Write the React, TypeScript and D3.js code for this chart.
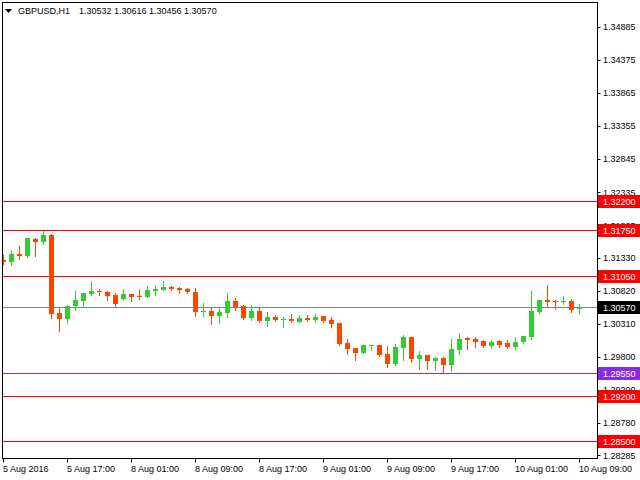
import React from "react";
import * as d3 from "d3";

const symbolTitle = "GBPUSD,H1";
const titleValues = "1.30532 1.30616 1.30456 1.30570";

const openP = [1.31298,1.31263,1.31386,1.31355,1.31622,1.31576,1.31679,1.30478,1.30385,1.30585,
1.30667,1.30770,1.30816,1.30801,1.30755,1.30698,1.30770,1.30744,1.30729,1.30821,
1.30832,1.30878,1.30863,1.30847,1.30801,1.30493,1.30508,1.30431,1.30478,1.30662,
1.30585,1.30401,1.30508,1.30354,1.30416,1.30381,1.30385,1.30339,1.30401,1.30370,
1.30431,1.30370,1.30324,1.30016,1.29939,1.29862,1.29969,1.29985,1.29846,1.29692,
1.29939,1.30108,1.29769,1.29831,1.29738,1.29785,1.29677,1.29908,1.30093,1.30077,
1.30046,1.29969,1.30046,1.30016,1.29954,1.30031,1.30108,1.30493,1.30678,1.30667,
1.30647,1.30662,1.30532];
const highP = [1.31371,1.31452,1.31509,1.31637,1.31633,1.31745,1.31687,1.30565,1.30601,1.30816,
1.30790,1.30975,1.30852,1.30816,1.30786,1.30847,1.30775,1.30847,1.30893,1.30909,
1.30970,1.30893,1.30878,1.30863,1.30863,1.30632,1.30555,1.30555,1.30786,1.30709,
1.30601,1.30601,1.30570,1.30493,1.30447,1.30416,1.30462,1.30447,1.30447,1.30462,
1.30435,1.30416,1.30328,1.30077,1.29943,1.29985,1.29985,1.29990,1.29969,1.30000,
1.30139,1.30112,1.29892,1.29835,1.29800,1.29800,1.30077,1.30170,1.30108,1.30108,
1.30062,1.30062,1.30062,1.30062,1.30108,1.30123,1.30816,1.30678,1.30909,1.30678,
1.30739,1.30693,1.30616];
const lowP = [1.31237,1.31221,1.31314,1.31340,1.31355,1.31540,1.30405,1.30200,1.30328,1.30528,
1.30570,1.30755,1.30759,1.30682,1.30590,1.30682,1.30667,1.30698,1.30725,1.30755,
1.30828,1.30832,1.30786,1.30786,1.30431,1.30431,1.30308,1.30324,1.30416,1.30524,
1.30385,1.30370,1.30339,1.30277,1.30354,1.30262,1.30339,1.30335,1.30354,1.30339,
1.30339,1.30262,1.29985,1.29846,1.29754,1.29858,1.29908,1.29815,1.29646,1.29677,
1.29754,1.29723,1.29615,1.29615,1.29600,1.29554,1.29584,1.29846,1.29923,1.29954,
1.29954,1.29939,1.29954,1.29939,1.29923,1.30016,1.30077,1.30478,1.30585,1.30539,
1.30616,1.30493,1.30456];
const closeP = [1.31268,1.31386,1.31355,1.31633,1.31576,1.31679,1.30462,1.30390,1.30590,1.30678,
1.30786,1.30816,1.30801,1.30744,1.30616,1.30770,1.30729,1.30735,1.30832,1.30847,
1.30878,1.30847,1.30832,1.30801,1.30493,1.30508,1.30431,1.30493,1.30662,1.30570,
1.30401,1.30508,1.30354,1.30416,1.30370,1.30390,1.30354,1.30401,1.30370,1.30416,
1.30354,1.30308,1.30000,1.29923,1.29862,1.29985,1.29980,1.29831,1.29692,1.29954,
1.30108,1.29769,1.29831,1.29738,1.29785,1.29677,1.29923,1.30077,1.30062,1.30031,
1.29969,1.30031,1.29985,1.29954,1.30031,1.30123,1.30508,1.30678,1.30647,1.30658,
1.30662,1.30524,1.30570];

const priceTicks = [1.34885,1.34375,1.33865,1.33355,1.32845,1.32335,1.31825,1.31330,1.30820,1.30310,1.29800,1.29290,1.28780,1.28285];
const timeTickIndex = [0,8,16,24,32,40,48,56,64,72];
const timeTickLabels = ["5 Aug 2016","5 Aug 17:00","8 Aug 01:00","8 Aug 09:00","8 Aug 17:00","9 Aug 01:00","9 Aug 09:00","9 Aug 17:00","10 Aug 01:00","10 Aug 09:00"];

const levelValues = [1.32200,1.31750,1.31050,1.30570,1.29550,1.29200,1.28500];
const levelColors = ["#ff0000","#ff0000","#ff0000","#778899","#8a2be2","#ff0000","#ff0000"];
const levelBoxColors = ["#ff0000","#ff0000","#ff0000","#000000","#8a2be2","#ff0000","#ff0000"];

const BULL = "#32cd32";
const BEAR = "#ff4500";
const FONT = "'Liberation Sans', Arial, sans-serif";

export default function App() {
  const W = 640, H = 480;
  const left = 2.5, right = 597.5, top = 2.5, bottom = 458.5;
  const y = d3.scaleLinear().domain([1.3057, 1.2857]).range([307, 307 + 0.02 * 6493.5]);
  const x = d3.scaleLinear().domain([0, 72]).range([3.5, 579.5]);
  const fmt = d3.format(".5f");
  const snap = (v: number) => Math.round(v) + 0.5;

  return (
    <svg width={W} height={H} style={{ position: "absolute", left: 0, top: 0, background: "#fff" }} fontFamily={FONT}>
      <defs>
        <clipPath id="plot">
          <rect x={3} y={3} width={594} height={455} />
        </clipPath>
      </defs>
      <rect x={0} y={0} width={W} height={H} fill="#fff" />
      {/* level lines */}
      <g clipPath="url(#plot)">
        {levelValues.map((v, i) => (
          <line key={i} x1={left} x2={right} y1={snap(y(v))} y2={snap(y(v))} stroke={levelColors[i]} strokeWidth={1} />
        ))}
        {openP.map((o, i) => {
          const c = closeP[i];
          const bull = c >= o;
          const col = bull ? BULL : BEAR;
          const cx = x(i);
          const yt = Math.round(y(Math.max(o, c)));
          const yb = Math.round(y(Math.min(o, c)));
          const hgt = Math.max(1, yb - yt);
          return (
            <g key={i}>
              <line x1={cx} x2={cx} y1={Math.round(y(highP[i]))} y2={Math.round(y(lowP[i])) + 1} stroke={col} strokeWidth={1} />
              <rect x={cx - 2.5} y={yt} width={5} height={hgt} fill={col} />
            </g>
          );
        })}
      </g>
      {/* frame */}
      <rect x={left} y={top} width={right - left} height={bottom - top} fill="none" stroke="#000" strokeWidth={1} />
      {/* right axis */}
      {priceTicks.map((v, i) => (
        <g key={i}>
          <line x1={right} x2={right + 3} y1={snap(y(v))} y2={snap(y(v))} stroke="#000" />
          <text x={603} y={y(v)} dy="0.35em" fontSize={9} fill="#000">{fmt(v)}</text>
        </g>
      ))}
      {levelValues.map((v, i) => {
        const yy = Math.round(y(v));
        return (
          <g key={i}>
            <rect x={598} y={yy - 6} width={42} height={13} fill={levelBoxColors[i]} />
            <text x={603} y={yy + 0.5} dy="0.35em" fontSize={9} fill="#fff">{fmt(v)}</text>
          </g>
        );
      })}
      {/* bottom axis */}
      {timeTickIndex.map((idx, i) => (
        <g key={i}>
          <line x1={snap(x(idx) - 0.5)} x2={snap(x(idx) - 0.5)} y1={bottom} y2={bottom + 4} stroke="#000" />
          <text x={x(idx) - 0.5} y={472} fontSize={9} fill="#000">{timeTickLabels[i]}</text>
        </g>
      ))}
      {/* title */}
      <path d="M5,9 L12,9 L8.5,13 Z" fill="#000" />
      <text x={18} y={14} fontSize={9} fill="#000">{symbolTitle}</text>
      <text x={79} y={14} fontSize={9} fill="#000">{titleValues}</text>
    </svg>
  );
}
